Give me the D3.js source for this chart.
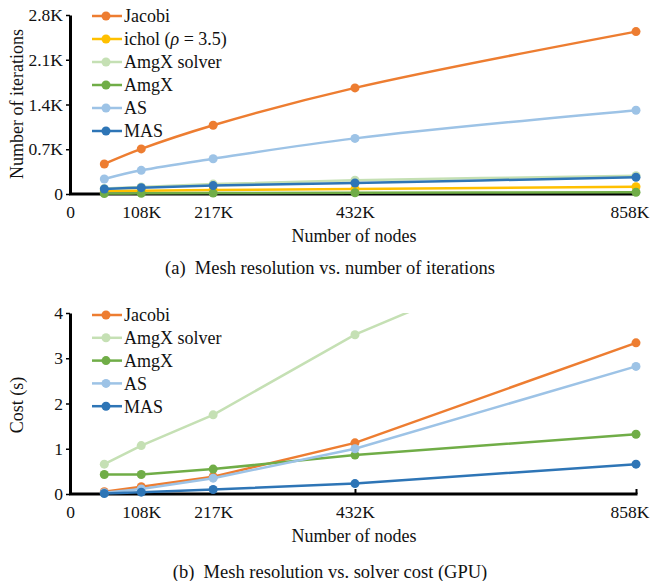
<!DOCTYPE html>
<html>
<head>
<meta charset="utf-8">
<title>Mesh resolution</title>
<script src="https://d3js.org/d3.v7.min.js"></script>
<style>
  body { margin: 0; background: #fff; }
  text { font-family: "Liberation Serif", "Times New Roman", serif; fill: #111; }
</style>
</head>
<body>
<script>
// number of nodes (K)
var nodes = [52, 108, 217, 432, 858];
var xTicks = [0, 108, 217, 432, 858];

// (a) iterations
var iterJacobi = [470, 705, 1075, 1660, 2540];
var iterIchol = [45, 52, 62, 80, 114];
var iterAmgxSolver = [85, 110, 155, 215, 285];
var iterAmgx = [8, 10, 14, 20, 27];
var iterAS = [235, 370, 552, 870, 1310];
var iterMAS = [78, 99, 132, 172, 262];
var iterTicks = [0, 700, 1400, 2100, 2800];

// (b) cost in seconds
var costJacobi = [0.05, 0.16, 0.38, 1.13, 3.34];
var costAmgxSolver = [0.66, 1.07, 1.75, 3.52, 6.15];
var costAmgx = [0.43, 0.43, 0.55, 0.86, 1.32];
var costAS = [0.03, 0.11, 0.35, 1.0, 2.82];
var costMAS = [0.01, 0.04, 0.1, 0.23, 0.66];
var costTicks = [0, 1, 2, 3, 4];

var col = {
  jacobi: "#ED7D31", ichol: "#FFC000", amgxSolver: "#C5E0B4",
  amgx: "#70AD47", as: "#9DC3E6", mas: "#2E75B6"
};

var w = 650, h = 581;
var svg = d3.select("body").append("svg").attr("width", w).attr("height", h);

var x = d3.scaleLinear().domain([0, 858]).range([70, 636]);

function kfmt(d) { return d === 0 ? "0" : d + "K"; }

function drawPanel(opt) {
  var y = d3.scaleLinear().domain(opt.yDomain).range(opt.yRange);
  var g = svg.append("g");

  // y axis
  var ya = g.append("g").attr("transform", "translate(70,0)")
    .call(d3.axisLeft(y).tickValues(opt.yTicks).tickFormat(opt.yFmt).tickSize(4).tickSizeOuter(0));
  ya.select(".domain").attr("stroke", "#000").attr("stroke-width", 3);
  ya.selectAll(".tick line").attr("stroke-width", 1.5);
  ya.selectAll(".tick text").attr("font-size", 17.5).attr("font-family", "Liberation Serif").attr("fill", "#111");

  // x axis
  var xa = g.append("g").attr("transform", "translate(0," + opt.yRange[0] + ")")
    .call(d3.axisBottom(x).tickValues(xTicks).tickFormat(kfmt).tickSizeInner(-5).tickSizeOuter(0));
  xa.select(".domain").attr("stroke", "#000").attr("stroke-width", 3).attr("d", "M69,0H637.5");
  xa.selectAll(".tick line").attr("stroke-width", 2);
  xa.selectAll(".tick text").attr("font-size", 17.5).attr("font-family", "Liberation Serif")
    .attr("fill", "#111").attr("y", 12);
  xa.selectAll(".tick").filter(function(d) { return d === 858; }).select("text")
    .attr("text-anchor", "end").attr("x", 13);

  // clip
  var cid = "clip" + opt.id;
  svg.append("clipPath").attr("id", cid).append("rect")
    .attr("x", 60).attr("y", opt.yRange[1]).attr("width", 600)
    .attr("height", opt.yRange[0] - opt.yRange[1] + 10);

  var line = d3.line().x(function(d, i) { return x(nodes[i]); }).y(function(d) { return y(d); })
    .curve(opt.curve);

  var plot = g.append("g").attr("clip-path", "url(#" + cid + ")");
  opt.series.forEach(function(s) {
    var sg = plot.append("g");
    sg.append("path").datum(s.values).attr("d", line).attr("fill", "none")
      .attr("stroke", s.color).attr("stroke-width", 2.5);
    sg.selectAll("circle").data(s.values).enter().append("circle")
      .attr("cx", function(d, i) { return x(nodes[i]); })
      .attr("cy", function(d) { return y(d); })
      .attr("r", 4.5).attr("fill", s.color);
  });

  // legend
  var lg = g.append("g");
  opt.series.forEach(function(s, i) {
    var yy = opt.legendY + i * opt.legendStep;
    lg.append("line").attr("x1", 92).attr("x2", 122).attr("y1", yy).attr("y2", yy)
      .attr("stroke", s.color).attr("stroke-width", 2.5);
    lg.append("circle").attr("cx", 106).attr("cy", yy).attr("r", 4.5).attr("fill", s.color);
    var t = lg.append("text").attr("x", 124).attr("y", yy).attr("dy", "0.35em").attr("font-size", 18);
    if (s.label === "ichol") {
      t.append("tspan").text("ichol (");
      t.append("tspan").attr("font-style", "italic").text("\u03C1");
      t.append("tspan").text(" = 3.5)");
    } else {
      t.text(s.label);
    }
  });

  // axis titles
  g.append("text").attr("x", 354).attr("y", opt.yRange[0] + 48).attr("text-anchor", "middle")
    .attr("font-size", 18).text("Number of nodes");
  g.append("text").attr("transform", "translate(23," + opt.yTitleY + ") rotate(-90)")
    .attr("text-anchor", "middle").attr("font-size", 18).text(opt.yTitle);
  g.append("text").attr("x", 330).attr("y", opt.capY).attr("text-anchor", "middle")
    .attr("font-size", 18.5).attr("xml:space", "preserve").text(opt.caption);
}

drawPanel({
  id: "a",
  yDomain: [0, 2800], yRange: [194, 15], yTicks: iterTicks,
  yFmt: function(d) { return d === 0 ? "0" : (d / 1000).toFixed(1) + "K"; },
  curve: d3.curveCatmullRom,
  series: [
    { label: "Jacobi", values: iterJacobi, color: col.jacobi },
    { label: "ichol", values: iterIchol, color: col.ichol },
    { label: "AmgX solver", values: iterAmgxSolver, color: col.amgxSolver },
    { label: "AmgX", values: iterAmgx, color: col.amgx },
    { label: "AS", values: iterAS, color: col.as },
    { label: "MAS", values: iterMAS, color: col.mas }
  ],
  legendY: 16, legendStep: 23,
  yTitle: "Number of iterations", yTitleY: 104,
  caption: "(a)  Mesh resolution vs. number of iterations", capY: 274
});

drawPanel({
  id: "b",
  yDomain: [0, 4], yRange: [494, 313], yTicks: costTicks,
  yFmt: d3.format("d"),
  curve: d3.curveLinear,
  series: [
    { label: "Jacobi", values: costJacobi, color: col.jacobi },
    { label: "AmgX solver", values: costAmgxSolver, color: col.amgxSolver },
    { label: "AmgX", values: costAmgx, color: col.amgx },
    { label: "AS", values: costAS, color: col.as },
    { label: "MAS", values: costMAS, color: col.mas }
  ],
  legendY: 315, legendStep: 22.8,
  yTitle: "Cost (s)", yTitleY: 405,
  caption: "(b)  Mesh resolution vs. solver cost (GPU)", capY: 578
});
</script>
</body>
</html>
